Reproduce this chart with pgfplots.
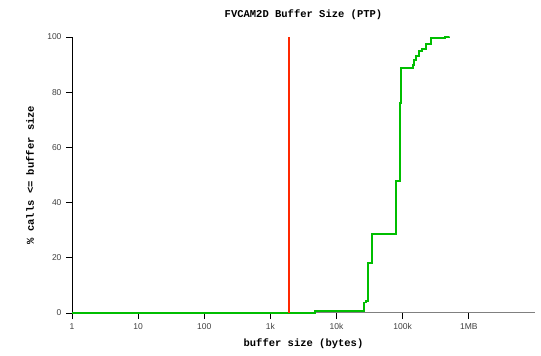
\documentclass[border=0pt]{standalone}
\usepackage{fontspec}
\setmainfont{Liberation Sans}
\newfontfamily\monob{Liberation Mono}
\usepackage{pgfplots}
\pgfplotsset{compat=1.18}
\definecolor{cgreen}{RGB}{0,190,0}
\definecolor{cred}{RGB}{255,40,0}
\definecolor{cgray}{RGB}{128,128,128}
\begin{document}
\begin{tikzpicture}[x=1pt,y=1pt]
\path[use as bounding box] (-72,-43) rectangle (469,313);
\begin{axis}[
  at={(0,0)}, anchor=south west,
  scale only axis, width=463pt, height=276pt,
  xmode=log, xmin=1, xmax=1e7, ymin=0, ymax=100,
  axis x line=bottom, axis y line=left,
  axis line style={-},
  x axis line style={cgray, line width=1pt},
  y axis line style={black, line width=0.8pt},
  xtick={1,10,100,1000,10000,100000,1000000},
  xticklabels={1,10,100,1k,10k,100k,1MB},
  ytick={0,20,40,60,80,100},
  minor xtick={}, minor ytick={},
  xminorticks=false, yminorticks=false,
  tick align=outside,
  major tick length=6pt,
  x tick style={black, line width=0.8pt},
  y tick style={black, line width=0.8pt},
  /pgf/number format/assume math mode=true,
  tick label style={font=\fontsize{8.5}{10}\selectfont, text=black!75},
  xticklabel style={yshift=-1pt},
  yticklabel style={xshift=-1pt},
  title={\monob\bfseries FVCAM2D Buffer Size (PTP)},
  title style={font=\fontsize{10.5}{12}\selectfont, at={(0.5,1)}, anchor=center, yshift=16pt},
  xlabel={\monob\bfseries buffer size (bytes)},
  xlabel style={font=\fontsize{10.5}{12}\selectfont, at={(0.5,0)}, anchor=center, yshift=-31pt},
  ylabel={\monob\bfseries \% calls <= buffer size},
  ylabel style={font=\fontsize{10.5}{12}\selectfont, at={(0,0.5)}, anchor=center, yshift=42pt},
  clip=false,
]
\addplot[const plot mark left, cgreen, line width=1.9pt, line join=miter] coordinates {
(1,0) (4730,0.6) (25900,3.8) (27500,4.3) (30000,18) (34500,28.6)
(78500,47.8) (90100,66) (92000,76) (95500,88.9) (143000,90)
(148000,91.6) (161000,93) (174000,95) (195000,95.7) (228000,97.6)
(271000,99.5) (440000,99.9) (510000,100)
};
\addplot[cred, line width=1.8pt] coordinates {(1900,0) (1900,100)};
\end{axis}
\end{tikzpicture}
\end{document}
